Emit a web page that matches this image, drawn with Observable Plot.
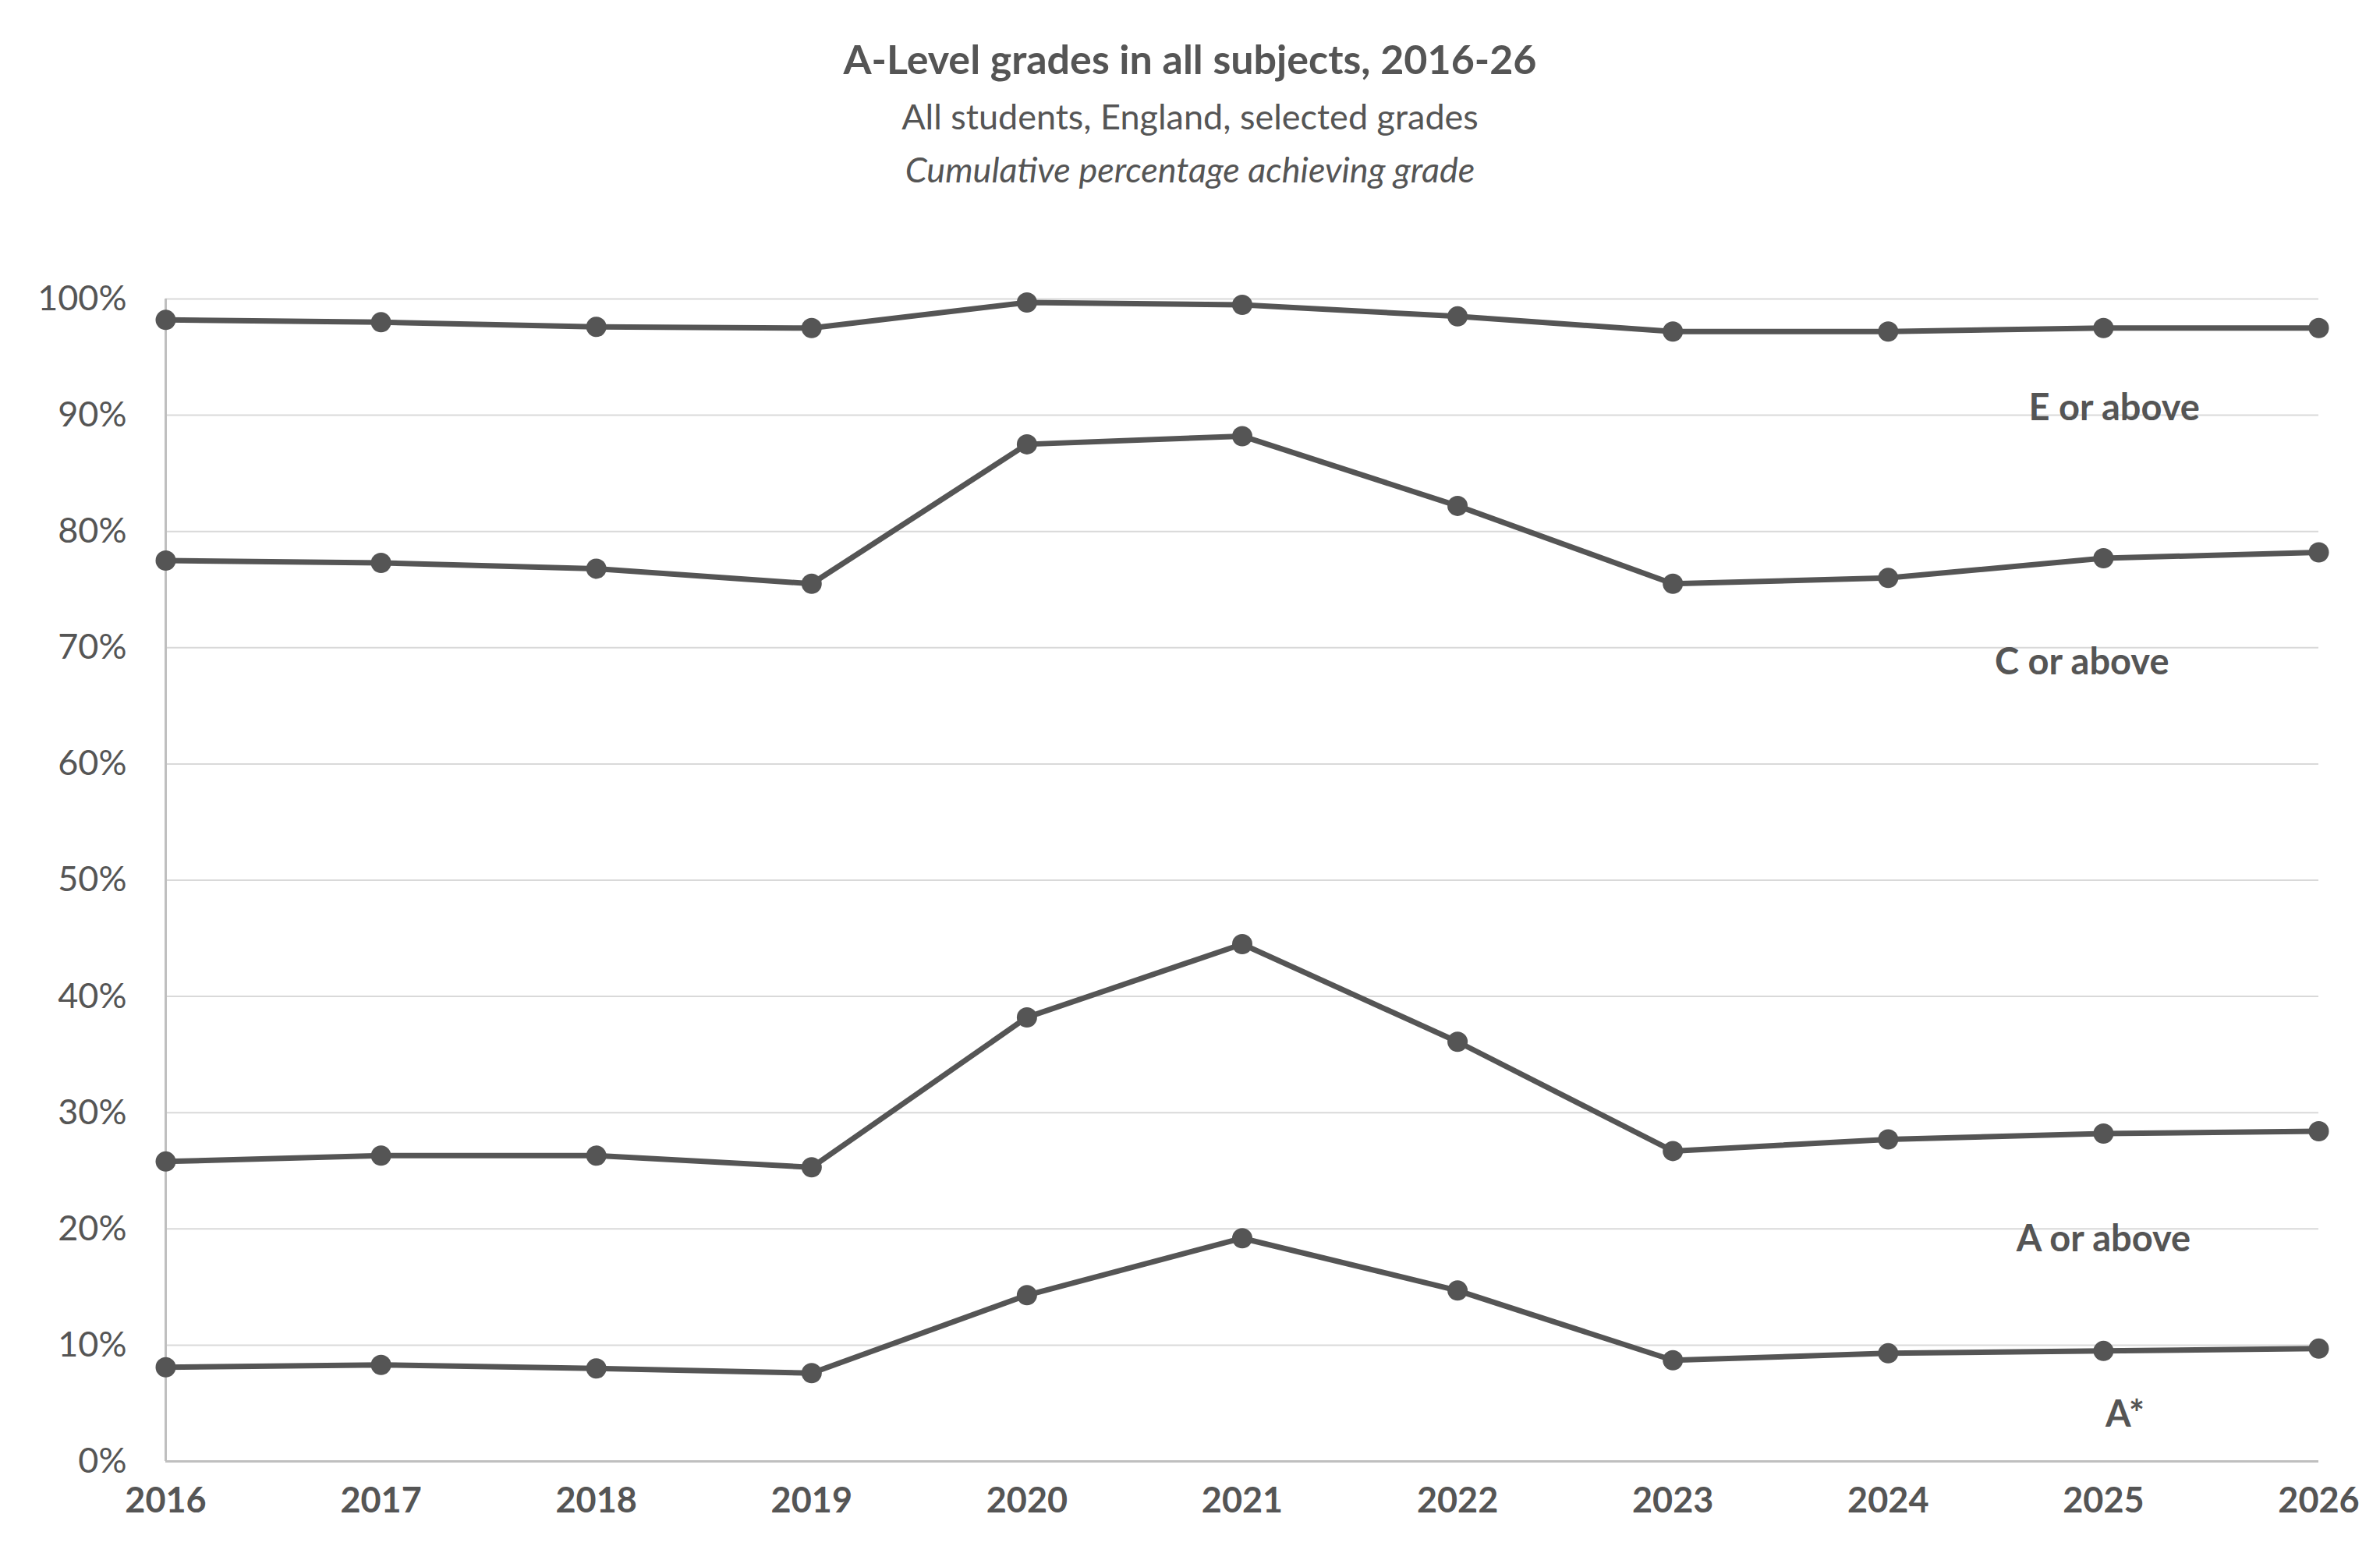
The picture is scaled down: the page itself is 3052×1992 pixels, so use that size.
<!DOCTYPE html>
<html><head><meta charset="utf-8">
<script src="https://cdn.jsdelivr.net/npm/d3@7"></script>
<script src="https://cdn.jsdelivr.net/npm/@observablehq/plot@0.6"></script>
<style>
body{margin:0;background:#fff;font-family:Lato,"Open Sans",sans-serif;color:#555}
#wrap{position:relative;width:3052px;height:1992px}
.t{position:absolute;left:0;width:3052px;text-align:center;color:#555}
</style></head><body>
<div id="wrap">
<div class="t" style="top:44px;font-size:52px;font-weight:bold">A-Level grades in all subjects, 2016-26</div>
<div class="t" style="top:122px;font-size:45px">All students, England, selected grades</div>
<div class="t" style="top:190px;font-size:45px;font-style:italic">Cumulative percentage achieving grade</div>
<div id="chart"></div>
</div>
<script>
const years = [2016,2017,2018,2019,2020,2021,2022,2023,2024,2025,2026];
const eOrAbove = [98.2,98.0,97.6,97.5,99.7,99.5,98.5,97.2,97.2,97.5,97.5];
const cOrAbove = [77.5,77.3,76.8,75.5,87.5,88.2,82.2,75.5,76.0,77.7,78.2];
const aOrAbove = [25.8,26.3,26.3,25.3,38.2,44.5,36.1,26.7,27.7,28.2,28.4];
const aStar = [8.1,8.3,8.0,7.6,14.3,19.2,14.7,8.7,9.3,9.5,9.7];
const seriesNames = ["E or above","C or above","A or above","A*"];
const labelX = [2025.05,2024.9,2025.0,2025.1];
const labelY = [90.6,68.7,19.1,4.0];
const yTicks = [0,10,20,30,40,50,60,70,80,90,100];

const all = [eOrAbove,cOrAbove,aOrAbove,aStar];
const data = all.flatMap((s,i)=>s.map((v,j)=>({series:seriesNames[i],year:years[j],value:v})));
const labels = seriesNames.map((n,i)=>({name:n,x:labelX[i],y:labelY[i]}));
const col = "#555555";
const chart = Plot.plot({
  width:3052, height:1992,
  marginTop:383, marginBottom:118, marginLeft:212, marginRight:79,
  style:{fontFamily:"Lato, 'Open Sans', sans-serif", fontSize:"45px", color:col, background:"transparent"},
  x:{domain:[2016,2026]},
  y:{domain:[0,100]},
  marks:[
    Plot.gridY(yTicks,{stroke:"#d9d9d9",strokeOpacity:1,strokeWidth:2}),
    Plot.ruleY([0],{stroke:"#bfbfbf",strokeWidth:3}),
    Plot.ruleX([2016],{stroke:"#bfbfbf",strokeWidth:3}),
    Plot.axisY(yTicks,{tickSize:0,tickPadding:16,tickFormat:d=>d+"%",fontSize:45,label:null,dx:-34}),
    Plot.axisX(years,{tickSize:0,tickPadding:34,tickFormat:d=>String(d),fontSize:45,fontWeight:"bold",label:null}),
    Plot.line(data,{x:"year",y:"value",z:"series",stroke:col,strokeWidth:7}),
    Plot.dot(data,{x:"year",y:"value",fill:col,r:13}),
    Plot.text(labels,{x:"x",y:"y",text:"name",fill:col,fontWeight:"bold",fontSize:47})
  ]
});
document.getElementById("chart").appendChild(chart);
chart.style.position="absolute";chart.style.left="0";chart.style.top="0";
</script>
</body></html>
